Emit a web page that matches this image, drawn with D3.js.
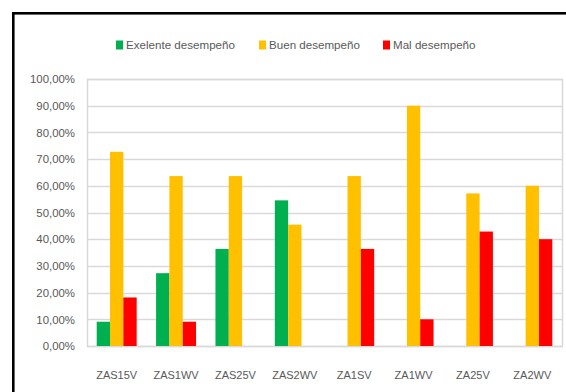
<!DOCTYPE html>
<html>
<head>
<meta charset="utf-8">
<script src="https://cdn.jsdelivr.net/npm/d3@7"></script>
<style>
  body { margin: 0; background: #fff; }
  text { font-family: "Liberation Sans", Arial, sans-serif; fill: #595959; }
</style>
</head>
<body>
<script>
// chart data
var categories = ["ZAS15V", "ZAS1WV", "ZAS25V", "ZAS2WV", "ZA1SV", "ZA1WV", "ZA25V", "ZA2WV"];
var seriesNames = ["Exelente desempeño", "Buen desempeño", "Mal desempeño"];
var seriesColors = ["#00b050", "#ffc000", "#ff0000"];
var excelente = [0.0909, 0.2727, 0.3636, 0.5455, 0, 0, 0, 0];
var bueno = [0.7273, 0.6364, 0.6364, 0.4545, 0.6364, 0.90, 0.5714, 0.60];
var malo = [0.1818, 0.0909, 0, 0, 0.3636, 0.10, 0.4286, 0.40];
var yTicks = [0, 0.1, 0.2, 0.3, 0.4, 0.5, 0.6, 0.7, 0.8, 0.9, 1.0];

var width = 566, height = 392;
var plot = {left: 87, right: 562, top: 79, bottom: 346};

var svg = d3.select("body").append("svg")
  .attr("width", width)
  .attr("height", height);

// outer frame (only top and left edges show)
svg.append("rect")
  .attr("x", 13.3).attr("y", 13.3)
  .attr("width", 570).attr("height", 400)
  .attr("fill", "none")
  .attr("stroke", "#000")
  .attr("stroke-width", 2.6);

var x0 = d3.scaleBand()
  .domain(categories)
  .range([plot.left, plot.right])
  .paddingInner(0.327)
  .paddingOuter(0.1635);

var x1 = d3.scaleBand()
  .domain(d3.range(seriesNames.length))
  .range([0, x0.bandwidth()]);

var y = d3.scaleLinear()
  .domain([0, 1])
  .range([plot.bottom, plot.top]);

var fmt = function(d) { return d3.format(".2f")(d * 100).replace(".", ",") + "%"; };

// gridlines
svg.append("g")
  .selectAll("line")
  .data(yTicks)
  .enter().append("line")
  .attr("x1", plot.left).attr("x2", plot.right)
  .attr("y1", function(d) { return Math.round(y(d)) + 0.5; })
  .attr("y2", function(d) { return Math.round(y(d)) + 0.5; })
  .attr("stroke", "#d9d9d9")
  .attr("stroke-width", 1.5);

// plot area border
svg.append("rect")
  .attr("x", plot.left + 0.5).attr("y", plot.top + 0.5)
  .attr("width", plot.right - plot.left).attr("height", plot.bottom - plot.top)
  .attr("fill", "none")
  .attr("stroke", "#d9d9d9")
  .attr("stroke-width", 1.5);

// bars
var seriesData = [excelente, bueno, malo];
var groups = svg.append("g")
  .selectAll("g")
  .data(categories)
  .enter().append("g")
  .attr("transform", function(d) { return "translate(" + x0(d) + ",0)"; });

groups.selectAll("rect")
  .data(function(d, i) {
    return seriesData.map(function(s, k) { return {k: k, v: s[i]}; });
  })
  .enter().append("rect")
  .attr("x", function(d) { return x1(d.k); })
  .attr("width", x1.bandwidth())
  .attr("y", function(d) { return y(d.v); })
  .attr("height", function(d) { return y(0) - y(d.v); })
  .attr("fill", function(d) { return seriesColors[d.k]; });

// y axis labels
svg.append("g")
  .selectAll("text")
  .data(yTicks)
  .enter().append("text")
  .attr("x", 75)
  .attr("y", function(d) { return y(d) + 4.2; })
  .attr("text-anchor", "end")
  .attr("font-size", 11.4)
  .text(fmt);

// x axis labels
svg.append("g")
  .selectAll("text")
  .data(categories)
  .enter().append("text")
  .attr("x", function(d) { return x0(d) + x0.bandwidth() / 2; })
  .attr("y", 379)
  .attr("text-anchor", "middle")
  .attr("font-size", 11)
  .text(function(d) { return d; });

// legend
var legendX = [116, 259, 383];
var legend = svg.append("g")
  .selectAll("g")
  .data(seriesNames)
  .enter().append("g")
  .attr("transform", function(d, i) { return "translate(" + legendX[i] + ",45)"; });

legend.append("rect")
  .attr("x", 0).attr("y", -4.5)
  .attr("width", 7).attr("height", 9)
  .attr("fill", function(d, i) { return seriesColors[i]; });

legend.append("text")
  .attr("x", 10)
  .attr("y", 4.2)
  .attr("font-size", 11.6)
  .text(function(d) { return d; });
</script>
</body>
</html>
